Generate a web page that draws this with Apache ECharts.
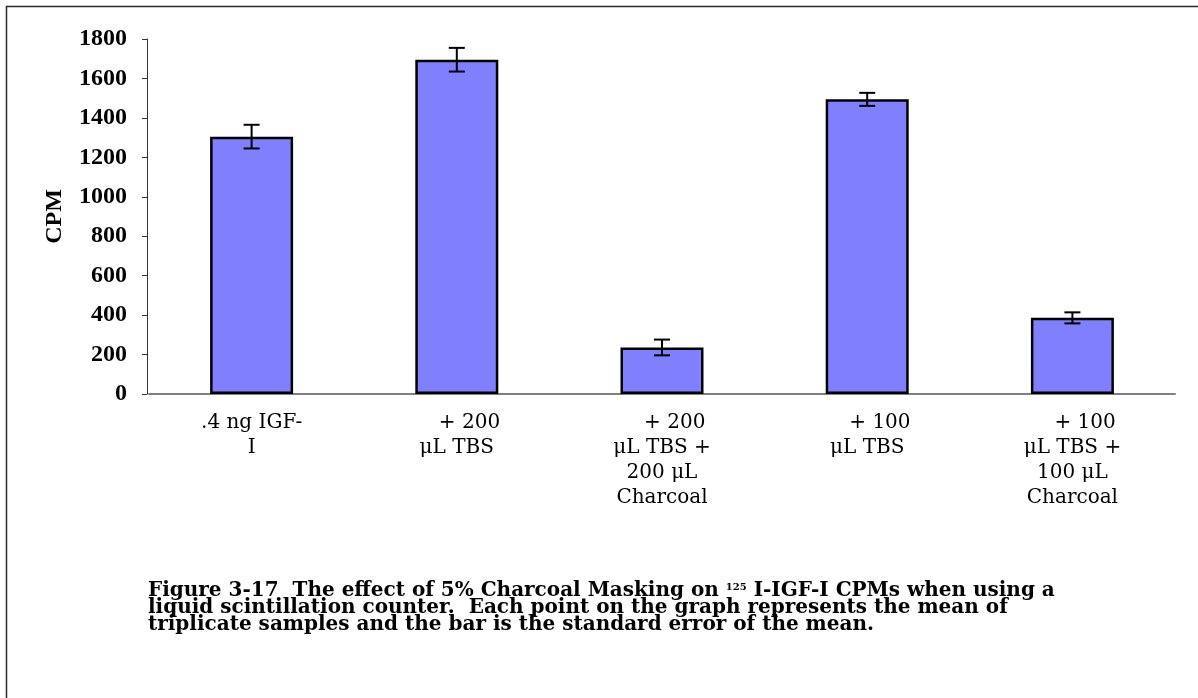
<!DOCTYPE html>
<html>
<head>
<meta charset="utf-8">
<script src="https://cdn.jsdelivr.net/npm/echarts@6/dist/echarts.min.js"></script>
<style>
  html, body { margin: 0; padding: 0; background: #ffffff; }
  #chart { width: 1198px; height: 698px; }
</style>
</head>
<body>
<div id="chart"></div>
<script>
// Treatment groups (line breaks as printed under each bar)
const categories = [
  '.4 ng IGF-\nI',
  '+ 200\nμL TBS',
  '+ 200\nμL TBS +\n200 μL\nCharcoal',
  '+ 100\nμL TBS',
  '+ 100\nμL TBS +\n100 μL\nCharcoal'
];
// Mean counts per minute of triplicate samples
const meanCPM = [1305, 1695, 236, 1494, 386];
// Standard error of the mean
const semCPM = [60, 60, 40, 33, 28];
// Value axis range
const yMin = 0;
const yMax = 1800;
const yStep = 200;

const captionLines = [
  ['Figure 3-17  The effect of 5% Charcoal Masking on ', '125', ' I-IGF-I CPMs when using a'],
  ['liquid scintillation counter.  Each point on the graph represents the mean of'],
  ['triplicate samples and the bar is the standard error of the mean.']
];

const errorData = meanCPM.map((m, i) => [i, m - semCPM[i], m + semCPM[i]]);

// Caption as rich text: plain runs in bold, the isotope mass as a superscript
const captionText = captionLines.map(line =>
  line.map(t => (/^\d+$/.test(t) ? '{sup|' + t + '}' : '{b|' + t + '}')).join('')
).join('\n');

const chart = echarts.init(document.getElementById('chart'), null, { renderer: 'canvas' });

chart.setOption({
  backgroundColor: '#ffffff',
  animation: false,
  title: {
    left: 143,
    top: 577,
    text: captionText,
    textStyle: {
      rich: {
        b: { fontFamily: 'DejaVu Serif', fontWeight: 'bold', fontSize: 20, color: '#000', lineHeight: 17 },
        sup: { fontFamily: 'DejaVu Serif', fontWeight: 'bold', fontSize: 10, color: '#000', lineHeight: 17, verticalAlign: 'top', padding: [0, 0, 6, 0] }
      }
    }
  },
  graphic: [
    { type: 'line', shape: { x1: 6, y1: 6.5, x2: 1198, y2: 6.5 }, style: { stroke: '#2a2a2a', lineWidth: 1.5 } },
    { type: 'line', shape: { x1: 6.5, y1: 6, x2: 6.5, y2: 698 }, style: { stroke: '#2a2a2a', lineWidth: 1.5 } }
  ],
  grid: { left: 149, right: 23, top: 39, bottom: 304, containLabel: false },
  xAxis: {
    type: 'category',
    data: categories,
    axisLine: { show: true, lineStyle: { color: '#808080', width: 2 } },
    axisTick: { show: false },
    axisLabel: {
      interval: 0,
      margin: 16,
      fontFamily: 'DejaVu Serif',
      fontSize: 20,
      lineHeight: 25,
      color: '#000',
      formatter: v => v.split('\n').map(l => (l.startsWith('+') ? '\u00a0\u00a0\u00a0\u00a0' + l : l)).join('\n')
    },
    splitLine: { show: false }
  },
  yAxis: {
    type: 'value',
    min: yMin,
    max: yMax,
    interval: yStep,
    offset: 2,
    name: 'CPM',
    nameLocation: 'middle',
    nameRotate: 90,
    nameGap: 80,
    nameTextStyle: { fontFamily: 'Liberation Serif', fontWeight: 'bold', fontSize: 24, color: '#000' },
    axisLine: { show: true, lineStyle: { color: '#333', width: 1 } },
    axisTick: { show: true, length: 5, lineStyle: { color: '#333', width: 1 } },
    axisLabel: {
      margin: 20,
      fontFamily: 'Liberation Serif',
      fontWeight: 'bold',
      fontSize: 24,
      color: '#000',
      formatter: v => String(v)
    },
    splitLine: { show: false }
  },
  series: [
    {
      type: 'bar',
      data: meanCPM,
      barWidth: 83,
      itemStyle: { color: '#8080ff', borderColor: '#000', borderWidth: 2.5 },
      z: 2
    },
    {
      type: 'custom',
      data: errorData,
      z: 3,
      renderItem: function (params, api) {
        const x = api.value(0);
        const lo = api.coord([x, api.value(1)]);
        const hi = api.coord([x, api.value(2)]);
        const half = 8;
        const style = { stroke: '#000', lineWidth: 2 };
        return {
          type: 'group',
          children: [
            { type: 'line', shape: { x1: hi[0], y1: hi[1], x2: lo[0], y2: lo[1] }, style: style },
            { type: 'line', shape: { x1: hi[0] - half, y1: hi[1], x2: hi[0] + half, y2: hi[1] }, style: style },
            { type: 'line', shape: { x1: lo[0] - half, y1: lo[1], x2: lo[0] + half, y2: lo[1] }, style: style }
          ]
        };
      }
    }
  ]
});
</script>
</body>
</html>
